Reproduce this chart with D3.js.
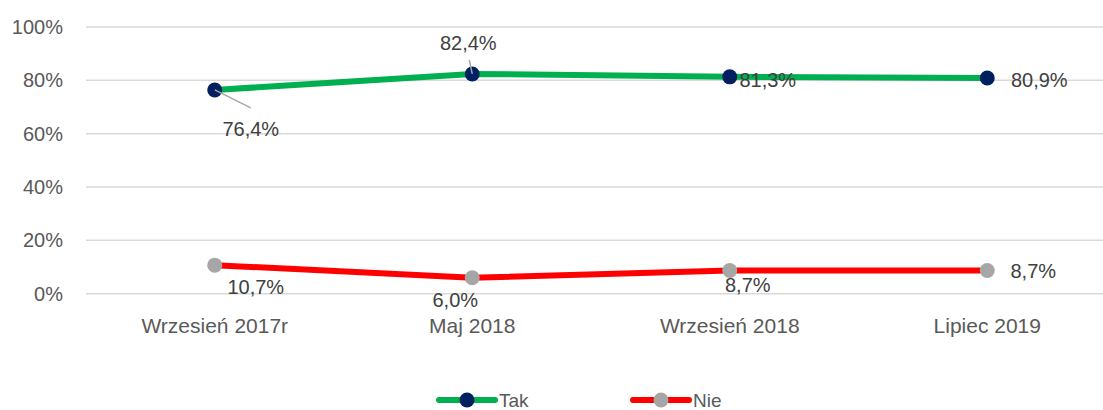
<!DOCTYPE html>
<html>
<head>
<meta charset="utf-8">
<script src="https://cdn.jsdelivr.net/npm/d3@7"></script>
<style>
  body { margin: 0; background: #fff; }
  text { font-family: "Liberation Sans", Arial, sans-serif; fill: #595959; }
</style>
</head>
<body>
<div id="chart"></div>
<script>
// data
var categories = ["Wrzesień 2017r", "Maj 2018", "Wrzesień 2018", "Lipiec 2019"];
var takValues = [76.4, 82.4, 81.3, 80.9];
var nieValues = [10.7, 6.0, 8.7, 8.7];
var yTicks = [0, 20, 40, 60, 80, 100];

// label placement (dx, dy from the point, to text centre/baseline)
var takLabelPos = [[36, 46], [-4, -24], [38, 10], [52, 9]];
var nieLabelPos = [[41, 29], [-17, 29], [18, 22], [46, 8]];
// leader lines: [index, dx, dy] end point relative to the marker
var takLeaders = [[0, 36, 18], [1, -3, -14]];

var width = 1103, height = 410;
var margin = {left: 86, top: 27, right: -13, bottom: 116};

var svg = d3.select("#chart").append("svg")
  .attr("width", width)
  .attr("height", height);

var x = d3.scalePoint()
  .domain(categories)
  .range([margin.left, width - margin.right])
  .padding(0.5);

var y = d3.scaleLinear()
  .domain([0, 100])
  .range([height - margin.bottom - 0.3, margin.top]);

// grid lines
svg.append("g")
  .selectAll("line")
  .data(yTicks)
  .join("line")
  .attr("x1", margin.left)
  .attr("x2", width)
  .attr("y1", function(d) { return y(d); })
  .attr("y2", function(d) { return y(d); })
  .attr("stroke", "#d9d9d9")
  .attr("stroke-width", 1.5);

// y axis labels
svg.append("g")
  .selectAll("text")
  .data(yTicks)
  .join("text")
  .attr("x", 63)
  .attr("y", function(d) { return y(d); })
  .attr("dy", "0.35em")
  .attr("text-anchor", "end")
  .style("font-size", "20px")
  .text(function(d) { return d + "%"; });

// x axis labels
svg.append("g")
  .selectAll("text")
  .data(categories)
  .join("text")
  .attr("x", function(d) { return x(d); })
  .attr("y", 333)
  .attr("text-anchor", "middle")
  .style("font-size", "21px")
  .text(function(d) { return d; });

var series = [
  {name: "Tak", values: takValues, line: "#00b050", marker: "#002060", labels: takLabelPos},
  {name: "Nie", values: nieValues, line: "#ff0000", marker: "#a6a6a6", labels: nieLabelPos}
];

var line = d3.line()
  .x(function(d, i) { return x(categories[i]); })
  .y(function(d) { return y(d); });

function fmt(v) { return v.toFixed(1).replace(".", ",") + "%"; }

series.forEach(function(s) {
  svg.append("path")
    .datum(s.values)
    .attr("d", line)
    .attr("fill", "none")
    .attr("stroke", s.line)
    .attr("stroke-width", 6)
    .attr("stroke-linejoin", "round");

  svg.append("g")
    .selectAll("circle")
    .data(s.values)
    .join("circle")
    .attr("cx", function(d, i) { return x(categories[i]); })
    .attr("cy", function(d) { return y(d); })
    .attr("r", 7.5)
    .attr("fill", s.marker);
});

// leader lines for Tak labels
svg.append("g")
  .selectAll("line")
  .data(takLeaders)
  .join("line")
  .attr("x1", function(d) { return x(categories[d[0]]); })
  .attr("y1", function(d) { return y(takValues[d[0]]); })
  .attr("x2", function(d) { return x(categories[d[0]]) + d[1]; })
  .attr("y2", function(d) { return y(takValues[d[0]]) + d[2]; })
  .attr("stroke", "#a6a6a6")
  .attr("stroke-width", 1.5);

// data labels
series.forEach(function(s) {
  svg.append("g")
    .selectAll("text")
    .data(s.values)
    .join("text")
    .attr("x", function(d, i) { return x(categories[i]) + s.labels[i][0]; })
    .attr("y", function(d, i) { return y(d) + s.labels[i][1]; })
    .attr("text-anchor", "middle")
    .style("font-size", "20px")
    .style("fill", "#404040")
    .text(function(d) { return fmt(d); });
});

// legend
var legendItems = [
  {name: "Tak", line: "#00b050", marker: "#002060", x: 439},
  {name: "Nie", line: "#ff0000", marker: "#a6a6a6", x: 633}
];
var lg = svg.append("g")
  .selectAll("g")
  .data(legendItems)
  .join("g")
  .attr("transform", function(d) { return "translate(" + d.x + ",400)"; });
lg.append("line")
  .attr("x1", 0).attr("x2", 56)
  .attr("stroke", function(d) { return d.line; })
  .attr("stroke-width", 6)
  .attr("stroke-linecap", "round");
lg.append("circle")
  .attr("cx", 28)
  .attr("r", 7.5)
  .attr("fill", function(d) { return d.marker; });
lg.append("text")
  .attr("x", 60)
  .attr("y", 7)
  .style("font-size", "19px")
  .text(function(d) { return d.name; });
</script>
</body>
</html>
